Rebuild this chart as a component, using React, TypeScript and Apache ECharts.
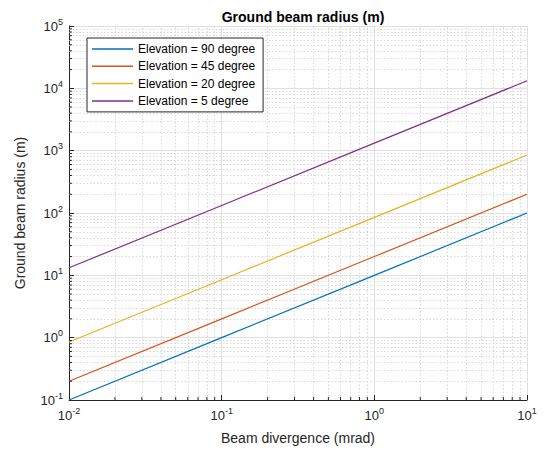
import React, { useEffect, useRef } from "react";
import * as echarts from "echarts";

// Beam divergence (mrad) sample points
const divergence = [0.01, 0.1, 1, 10];
// Ground beam radius (m) per elevation
const elev90 = [0.1, 1, 10, 100];
const elev45 = [0.2, 2, 20, 200];
const elev20 = [0.85, 8.5, 85, 850];
const elev5 = [13.2, 132, 1320, 13200];

const seriesNames = [
  "Elevation = 90 degree",
  "Elevation = 45 degree",
  "Elevation = 20 degree",
  "Elevation = 5 degree",
];
const colors = ["#0072BD", "#D95319", "#EDB120", "#7E2F8E"];

const xDecades = [-2, -1, 0];
const yDecades = [-1, 0, 1, 2, 3, 4];
const minorMult = [2, 3, 4, 5, 6, 7, 8, 9];

const X_MIN = 0.01, X_MAX = 10, Y_MIN = 0.1, Y_MAX = 100000;

const FONT = "Liberation Sans, Arial, Helvetica, sans-serif";
const AXIS = "#262626";

const xMinor: number[] = [];
xDecades.forEach((d) => minorMult.forEach((m) => xMinor.push(m * Math.pow(10, d))));
const yMinor: number[] = [];
yDecades.forEach((d) => minorMult.forEach((m) => yMinor.push(m * Math.pow(10, d))));

const supLabel = (v: number) => {
  const e = Math.round(Math.log10(v));
  return `{b|10}{s|${e}}`;
};
const rich = {
  b: { fontSize: 13, color: AXIS, fontFamily: FONT },
  s: { fontSize: 9, color: AXIS, fontFamily: FONT, padding: [0, 0, 9, 0] },
};

export default function App() {
  const ref = useRef<HTMLDivElement>(null);
  useEffect(() => {
    document.body.style.margin = "0";
    if (!ref.current) return;
    const chart = echarts.init(ref.current, undefined, { renderer: "svg" });
    const datasets = [elev90, elev45, elev20, elev5];
    const lineSeries = datasets.map((ys, i) => ({
      name: seriesNames[i],
      type: "line",
      data: divergence.map((x, j) => [x, ys[j]]),
      symbol: "none",
      showSymbol: false,
      lineStyle: { color: colors[i], width: 1.2 },
      itemStyle: { color: colors[i] },
      z: 5,
      ...(i === 0
        ? {
            markLine: {
              silent: true,
              symbol: "none",
              animation: false,
              label: { show: false },
              lineStyle: { color: "#d8d8d8", type: [1.5, 2], width: 1 },
              data: [
                ...xMinor.map((v) => ({ xAxis: v })),
                ...yMinor.map((v) => ({ yAxis: v })),
              ],
              z: 1,
            },
          }
        : {}),
    }));
    const tickStyle = { stroke: AXIS, lineWidth: 1 };
    chart.setOption({
      animation: false,
      textStyle: { fontFamily: FONT },
      title: {
        text: "Ground beam radius (m)",
        left: 298,
        textAlign: "center",
        top: 5,
        textStyle: { fontSize: 14, fontWeight: "bold", color: "#000", fontFamily: FONT },
      },
      legend: {
        data: seriesNames.map((n) => ({ name: n, icon: "rect" })),
        orient: "vertical",
        left: 87,
        top: 38,
        padding: [4, 8, 4, 5],
        itemGap: 3.3,
        itemWidth: 41,
        itemHeight: 1.5,
        backgroundColor: "#fff",
        borderColor: AXIS,
        borderWidth: 1,
        borderRadius: 0,
        textStyle: { fontSize: 12, lineHeight: 14, color: "#000", fontFamily: FONT },
        z: 20,
      },
      grid: { left: 69, right: 19, top: 26, bottom: 54, containLabel: false },
      xAxis: {
        type: "log",
        logBase: 10,
        min: X_MIN,
        max: X_MAX,
        splitNumber: 3,
        name: "Beam divergence (mrad)",
        nameLocation: "middle",
        nameGap: 31,
        nameTextStyle: { fontSize: 14, color: AXIS, fontFamily: FONT },
        axisLine: { show: true, lineStyle: { color: AXIS, width: 1 } },
        axisTick: { show: true, inside: true, length: 5, lineStyle: { color: AXIS } },
        axisLabel: { formatter: supLabel, rich, margin: 6 },
        splitLine: { show: true, lineStyle: { color: "#e0e0e0", width: 1 } },
      },
      yAxis: {
        type: "log",
        logBase: 10,
        min: Y_MIN,
        max: Y_MAX,
        splitNumber: 6,
        name: "Ground beam radius (m)",
        nameLocation: "middle",
        nameGap: 42,
        nameTextStyle: { fontSize: 14, color: AXIS, fontFamily: FONT },
        axisLine: { show: true, lineStyle: { color: AXIS, width: 1 } },
        axisTick: { show: true, inside: true, length: 5, lineStyle: { color: AXIS } },
        axisLabel: { formatter: supLabel, rich, margin: 6 },
        splitLine: { show: true, lineStyle: { color: "#e0e0e0", width: 1 } },
      },
      series: [
        ...lineSeries,
        {
          type: "custom",
          silent: true,
          z: 6,
          data: xMinor.map((v) => [v, Y_MIN]),
          renderItem: (_p: any, api: any) => {
            const pt = api.coord([api.value(0), api.value(1)]);
            return {
              type: "line",
              shape: { x1: pt[0], y1: pt[1], x2: pt[0], y2: pt[1] - 3 },
              style: tickStyle,
            };
          },
        },
        {
          type: "custom",
          silent: true,
          z: 6,
          data: yMinor.map((v) => [X_MIN, v]),
          renderItem: (_p: any, api: any) => {
            const pt = api.coord([api.value(0), api.value(1)]);
            return {
              type: "line",
              shape: { x1: pt[0], y1: pt[1], x2: pt[0] + 3, y2: pt[1] },
              style: tickStyle,
            };
          },
        },
      ],
    });
    return () => chart.dispose();
  }, []);
  return <div ref={ref} style={{ width: 546, height: 454 }} />;
}
